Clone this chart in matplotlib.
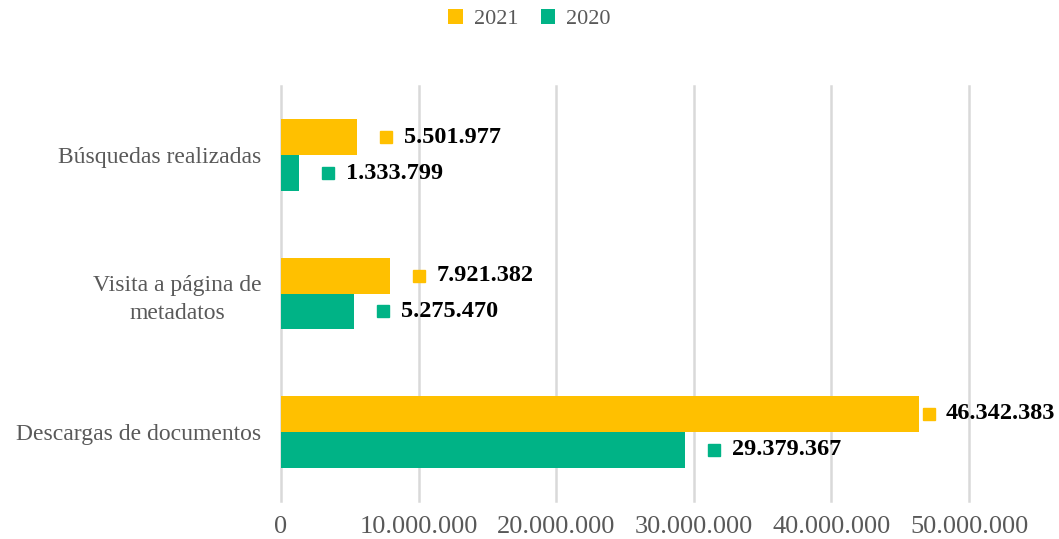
import matplotlib.pyplot as plt
import matplotlib.transforms as mtransforms
import numpy as np

plt.rcParams['font.family'] = ['Liberation Serif', 'DejaVu Serif']

# datos (de abajo hacia arriba)
categorias = ['Descargas de documentos', 'Visita a página de\nmetadatos', 'Búsquedas realizadas']
valores_2021 = [46342383, 7921382, 5501977]
valores_2020 = [29379367, 5275470, 1333799]
etiquetas_x = ['0', '10.000.000', '20.000.000', '30.000.000', '40.000.000', '50.000.000']

color_2021 = '#FFC000'
color_2020 = '#00B386'

def fmt(v):
    return f'{v:,}'.replace(',', '.')

fig = plt.figure(figsize=(10.59, 5.39), dpi=100)
ax = fig.add_axes([281 / 1059, 1 - 501 / 539, (969 - 281) / 1059, 415 / 539])

y = np.arange(len(categorias))
alto = 0.26
ax.barh(y + alto / 2, valores_2021, height=alto, color=color_2021, label='2021', zorder=3)
ax.barh(y - alto / 2, valores_2020, height=alto, color=color_2020, label='2020', zorder=3)

ax.set_xlim(0, 50000000)
ax.set_ylim(-0.5, 2.5)
ax.set_xticks(np.arange(0, 50000001, 10000000))
ax.set_xticklabels(etiquetas_x, fontsize=19, color='#595959')
ax.set_yticks(y)
ax.set_yticklabels(categorias, fontsize=17, color='#595959', linespacing=1.45,
                   multialignment='center')
ax.tick_params(axis='y', length=0, pad=14)
ax.tick_params(axis='x', length=0, pad=11)
for s in ax.spines.values():
    s.set_visible(False)
ax.grid(axis='x', color='#D9D9D9', linewidth=1.8, zorder=0)
for g in ax.get_xgridlines():
    g.set_clip_on(False)

# etiquetas de datos con marcador
def etiqueta(v, yy, color, off_sq, off_txt):
    tr_sq = mtransforms.offset_copy(ax.transData, fig=fig, x=off_sq, y=0, units='dots')
    ax.plot([v], [yy], marker='s', markersize=9, color=color, transform=tr_sq, zorder=4, clip_on=False)
    ax.annotate(fmt(v), (v, yy), xytext=(off_txt * 0.72, 0), textcoords='offset points',
                ha='left', va='center', fontsize=17.5, fontweight='bold', color='black',
                annotation_clip=False)

for i in range(len(categorias)):
    o1 = (10, 27) if valores_2021[i] > 40000000 else (29, 47)
    etiqueta(valores_2021[i], y[i] + alto / 2, color_2021, *o1)
    etiqueta(valores_2020[i], y[i] - alto / 2, color_2020, 29, 47)

leg = fig.legend(loc='upper center', bbox_to_anchor=(0.5, 1.02), ncol=2, frameon=False,
                 fontsize=16, handlelength=0.65, handleheight=0.65, handletextpad=0.5,
                 columnspacing=1.0)
for t in leg.get_texts():
    t.set_color('#595959')

fig.savefig('out.png', dpi=100)
